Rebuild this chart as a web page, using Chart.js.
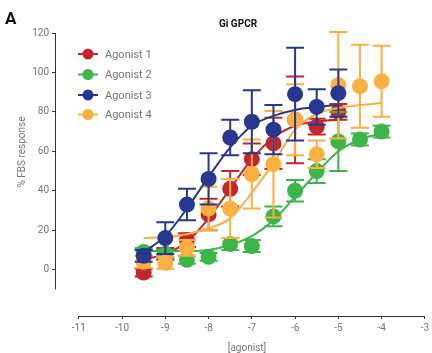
<!DOCTYPE html>
<html>
<head>
<meta charset="utf-8">
<script src="https://cdn.jsdelivr.net/npm/chart.js@4/dist/chart.umd.min.js"></script>
<style>
  html, body { margin: 0; padding: 0; background: #fff; }
  #wrap { width: 432px; height: 353px; position: relative; }
</style>
</head>
<body>
<div id="wrap"><canvas id="myChart"></canvas></div>
<script>
// log [agonist] doses (M)
const doses = [-9.5, -9, -8.5, -8, -7.5, -7, -6.5, -6, -5.5, -5, -4.5, -4];

// % FBS response, mean and error
const agonist1 = [-1.5, 8, 15, 28, 41, 56, 64, 76, 72.5, 80];
const err1 = [2, 3, 3.5, 8, 9, 8, 13, 22, 4, 4];
const agonist2 = [9, 8, 5, 6.5, 13, 12, 27, 40, 50, 65, 66, 70];
const err2 = [2, 2, 2, 2, 3, 3, 5, 5.5, 6, 15, 3, 3];
const agonist3 = [7, 16, 33, 46, 67, 75, 71, 89, 82.5, 89.5];
const err3 = [3, 8, 8, 13, 9, 16, 12.5, 23.5, 9, 12];
const agonist4 = [4, 3.5, 11, 31, 31, 48.5, 53.5, 76, 58.5, 93.5, 93, 95.5];
const err4 = [3, 3, 4, 11, 15, 17.5, 27, 18, 7, 27, 21, 18];

// fitted curves read at the same doses
const fit1 = [5, 8, 14, 26, 41, 56, 67, 73, 75, 76];
const fit2 = [9.5, 9.5, 9.5, 10, 12.5, 17, 25, 37, 49, 60, 66, 69];
const fit3 = [9, 17, 31, 47, 62, 73, 78, 81, 82.5, 83.5];
const fit4 = [16, 16.5, 18, 21, 26, 39, 54, 71, 79, 82, 83.5, 84.5];

const names = ['Agonist 1', 'Agonist 2', 'Agonist 3', 'Agonist 4'];
const colors = ['#c1272d', '#3db54a', '#283891', '#fbb040'];

const xTicks = [-11, -10, -9, -8, -7, -6, -5, -4, -3];
const yTicks = [0, 20, 40, 60, 80, 100, 120];

const means = [agonist1, agonist2, agonist3, agonist4];
const errs = [err1, err2, err3, err4];
const fits = [fit1, fit2, fit3, fit4];
// drawing order: blue on top, then orange, green, red
const drawOrder = [6, 4, 0, 2];

const toXY = (ys) => ys.map((y, i) => ({ x: doses[i], y: y }));

const datasets = [];
for (let i = 0; i < 4; i++) {
  datasets.push({
    label: names[i] + ' fit',
    data: toXY(fits[i]),
    showLine: true,
    borderColor: colors[i],
    borderWidth: 2,
    pointRadius: 0,
    cubicInterpolationMode: 'monotone',
    order: drawOrder[i] + 1
  });
  datasets.push({
    label: names[i],
    data: toXY(means[i]),
    errors: errs[i],
    showLine: false,
    backgroundColor: colors[i],
    borderColor: colors[i],
    borderWidth: 0,
    pointRadius: 8,
    pointHoverRadius: 8,
    order: drawOrder[i]
  });
}

const font = 'Roboto, "Liberation Sans", sans-serif';

const extras = {
  id: 'extras',
  beforeDatasetDraw(chart, args) {
    const ds = chart.data.datasets[args.index];
    if (!ds.errors) return;
    const ctx = chart.ctx;
    const ys = chart.scales.y;
    ctx.save();
    ctx.strokeStyle = ds.borderColor;
    ctx.lineWidth = 2;
    args.meta.data.forEach((pt, j) => {
      const v = ds.data[j].y, e = ds.errors[j];
      const top = ys.getPixelForValue(v + e);
      const bot = ys.getPixelForValue(v - e);
      ctx.beginPath();
      ctx.moveTo(pt.x, top); ctx.lineTo(pt.x, bot);
      ctx.moveTo(pt.x - 9, top); ctx.lineTo(pt.x + 9, top);
      ctx.moveTo(pt.x - 9, bot); ctx.lineTo(pt.x + 9, bot);
      ctx.stroke();
    });
    ctx.restore();
  },
  afterDraw(chart) {
    const ctx = chart.ctx;
    const xs = chart.scales.x, ys = chart.scales.y;
    const area = chart.chartArea;
    ctx.save();
    // axis lines (Prism style, offset)
    ctx.strokeStyle = '#333';
    ctx.lineWidth = 1;
    ctx.beginPath();
    ctx.moveTo(area.left + 0.5, ys.getPixelForValue(120));
    ctx.lineTo(area.left + 0.5, ys.getPixelForValue(-10));
    ctx.moveTo(xs.getPixelForValue(-11), area.bottom + 0.5);
    ctx.lineTo(xs.getPixelForValue(-3), area.bottom + 0.5);
    ctx.stroke();

    // legend
    ctx.textBaseline = 'middle';
    ctx.textAlign = 'left';
    ctx.font = '11px ' + font;
    const legY = [54, 74.5, 95, 114.5];
    for (let i = 0; i < 4; i++) {
      ctx.strokeStyle = colors[i];
      ctx.fillStyle = colors[i];
      ctx.lineWidth = 2;
      ctx.beginPath();
      ctx.moveTo(78, legY[i]); ctx.lineTo(98, legY[i]);
      ctx.stroke();
      ctx.beginPath();
      ctx.arc(88, legY[i], 5.5, 0, Math.PI * 2);
      ctx.fill();
      ctx.fillStyle = '#777';
      ctx.fillText(names[i], 105, legY[i] + 1);
    }

    // titles
    ctx.fillStyle = '#111';
    ctx.textAlign = 'center';
    ctx.font = 'bold 10px ' + font;
    ctx.fillText('Gi GPCR', 238, 24);
    ctx.textAlign = 'left';
    ctx.font = 'bold 17px ' + font;
    ctx.fillText('A', 5, 20);

    ctx.fillStyle = '#777';
    ctx.font = '10px ' + font;
    ctx.textAlign = 'center';
    ctx.fillText('[agonist]', 247, 348);
    ctx.translate(22, 152);
    ctx.rotate(-Math.PI / 2);
    ctx.fillText('% FBS response', 0, 0);
    ctx.restore();
  }
};

new Chart(document.getElementById('myChart'), {
  type: 'scatter',
  data: { datasets: datasets },
  options: {
    responsive: true,
    maintainAspectRatio: false,
    animation: false,
    layout: { padding: { left: 0, right: 0, top: 33, bottom: 0 } },
    plugins: {
      legend: { display: false },
      tooltip: { enabled: false },
      title: { display: false }
    },
    scales: {
      x: {
        type: 'linear',
        min: -11.55,
        max: -3.07,
        afterFit: (s) => { s.height = 37; },
        afterBuildTicks: (s) => { s.ticks = xTicks.map(v => ({ value: v })); },
        border: { display: false },
        grid: { display: true, drawOnChartArea: false, drawTicks: true, tickLength: 3, color: '#333' },
        ticks: { color: '#777', font: { size: 10, family: font }, padding: 3, maxRotation: 0, autoSkip: false }
      },
      y: {
        type: 'linear',
        min: -23.5,
        max: 120,
        afterFit: (s) => { s.width = 55; },
        afterBuildTicks: (s) => { s.ticks = yTicks.map(v => ({ value: v })); },
        border: { display: false },
        grid: { display: true, drawOnChartArea: false, drawTicks: true, tickLength: 3, color: '#333' },
        ticks: { color: '#777', font: { size: 10, family: font }, padding: 3 }
      }
    }
  },
  plugins: [extras]
});
</script>
</body>
</html>
